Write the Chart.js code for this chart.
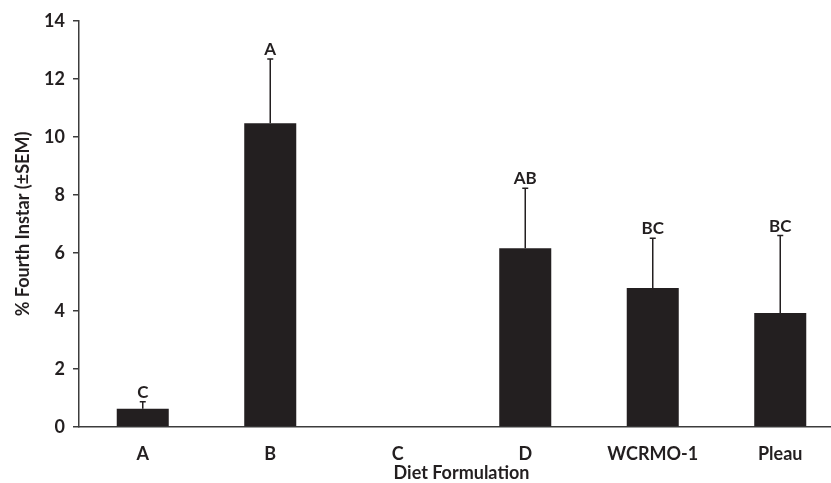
<!DOCTYPE html>
<html>
<head>
<meta charset="utf-8">
<script src="https://cdn.jsdelivr.net/npm/chart.js@4"></script>
<style>
  html, body { margin: 0; padding: 0; background: #fff; overflow: hidden; }
  #wrap { width: 850px; height: 483px; position: relative; }
</style>
</head>
<body>
<div id="wrap"><canvas id="dietChart"></canvas></div>
<script>
const categories = ['A', 'B', 'C', 'D', 'WCRMO-1', 'Pleau'];
const meanValues = [0.63, 10.47, 0, 6.16, 4.79, 3.93];
const semValues = [0.24, 2.22, 0, 2.07, 1.72, 2.67];
const groupLetters = ['C', 'A', '', 'AB', 'BC', 'BC'];
const yTicks = [0, 2, 4, 6, 8, 10, 12, 14];

const ink = '#231f20';
const axisColor = '#3c3c3c';

// error bars (upper only) + significance letters
const errorBarPlugin = {
    id: 'errorBars',
    afterDatasetsDraw(chart) {
        const ctx = chart.ctx;
        const yScale = chart.scales.y;
        const meta = chart.getDatasetMeta(0);
        ctx.save();
        ctx.strokeStyle = ink;
        ctx.lineWidth = 1.5;
        meta.data.forEach(function (bar, i) {
            const x = bar.x;
            const yBase = yScale.getPixelForValue(meanValues[i]);
            const yTop = yScale.getPixelForValue(meanValues[i] + semValues[i]);
            if (semValues[i] > 0) {
                ctx.beginPath();
                ctx.moveTo(x, yBase);
                ctx.lineTo(x, yTop);
                ctx.moveTo(x - 3, yTop);
                ctx.lineTo(x + 3, yTop);
                ctx.stroke();
            }
            if (groupLetters[i]) {
                ctx.fillStyle = ink;
                ctx.font = 'bold 17px Lato';
                ctx.textAlign = 'center';
                ctx.textBaseline = 'alphabetic';
                ctx.fillText(groupLetters[i], x, yTop - 4);
            }
        });
        ctx.restore();
    }
};

const ctx = document.getElementById('dietChart').getContext('2d');
new Chart(ctx, {
    type: 'bar',
    data: {
        labels: categories,
        datasets: [{
            data: meanValues,
            backgroundColor: ink,
            borderWidth: 0,
            categoryPercentage: 1.0,
            barPercentage: 0.408
        }]
    },
    options: {
        responsive: true,
        maintainAspectRatio: false,
        animation: false,
        layout: { padding: { top: 21, left: 10, right: 6, bottom: 0 } },
        plugins: {
            legend: { display: false },
            tooltip: { enabled: false }
        },
        scales: {
            x: {
                grid: { display: false, drawTicks: false },
                border: { display: true, color: axisColor, width: 1.5 },
                ticks: {
                    color: ink,
                    font: { family: 'Lato', size: 18, weight: 'bold' },
                    padding: 16,
                    maxRotation: 0
                },
                title: {
                    display: true,
                    text: 'Diet Formulation',
                    color: ink,
                    font: { family: 'Lato', size: 18, weight: 'bold', lineHeight: 1 },
                    padding: { top: 0, bottom: 1 }
                },
                afterFit: function (scale) { scale.height = 56; }
            },
            y: {
                min: 0,
                max: 14,
                afterBuildTicks: function (scale) {
                    scale.ticks = yTicks.map(v => ({ value: v }));
                },
                grid: {
                    drawOnChartArea: false,
                    drawTicks: true,
                    tickLength: 6,
                    color: axisColor,
                    lineWidth: 1.5
                },
                border: { display: true, color: axisColor, width: 1.5 },
                ticks: {
                    color: ink,
                    font: { family: 'Lato', size: 18, weight: 'bold' },
                    padding: 8
                },
                title: {
                    display: true,
                    text: '% Fourth Instar (±SEM)',
                    color: ink,
                    font: { family: 'Lato', size: 18, weight: 'bold', lineHeight: 1.2 },
                    padding: { top: 2, bottom: 10 }
                },
                afterFit: function (scale) { scale.width = 69; }
            }
        }
    },
    plugins: [errorBarPlugin]
});
</script>
</body>
</html>
